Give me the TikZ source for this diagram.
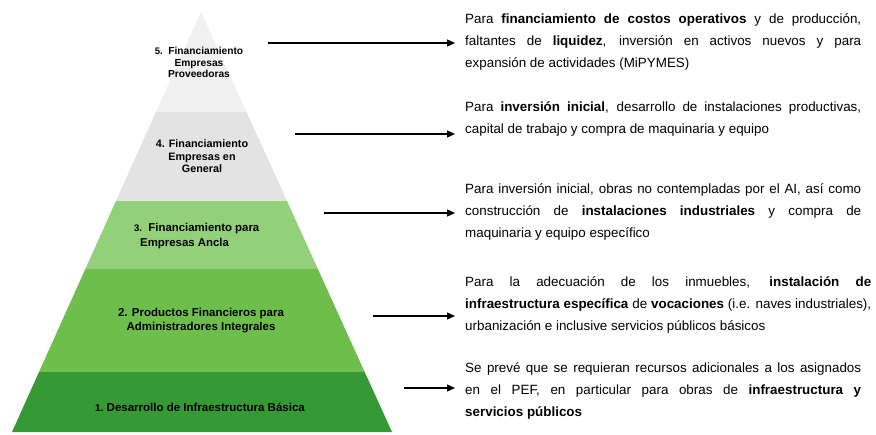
\documentclass[tikz,border=0pt]{standalone}
\usepackage{fontspec}
\setmainfont{Liberation Sans}
\usetikzlibrary{arrows.meta}
\definecolor{lay5}{RGB}{240,240,240}
\definecolor{lay4}{RGB}{227,227,227}
\definecolor{lay3}{RGB}{146,208,122}
\definecolor{lay2}{RGB}{110,190,75}
\definecolor{lay1}{RGB}{53,153,52}
\hyphenpenalty=10000
\tolerance=10000
\tikzset{
  desc/.style={anchor=north west, inner xsep=10pt, inner ysep=0pt, text width=396pt, align=justify,
    font=\fontsize{13.4}{21.8}\selectfont},
  lbl/.style={inner sep=0pt, align=center, font=\bfseries},
  arr/.style={line width=1.3pt, -{Triangle[length=8pt,width=7pt]}},
}
\newcommand{\firststrut}{\rule{0pt}{12.5pt}}
\begin{document}
\begin{tikzpicture}[x=1pt,y=-1pt]
\useasboundingbox[fill=white] (0,0) rectangle (876,434);
% pyramid layers
\fill[lay5] (201,12) -- (246.5,112) -- (156,112) -- cycle;
\fill[lay4] (156,112) -- (246.5,112) -- (287,201) -- (115.95,201) -- cycle;
\fill[lay3] (115.95,201) -- (287,201) -- (317.9,269) -- (85.35,269) -- cycle;
\fill[lay2] (85.35,269) -- (317.9,269) -- (364.7,372) -- (39,372) -- cycle;
\fill[lay1] (39,372) -- (364.7,372) -- (392,432) -- (12,432) -- cycle;
% pyramid labels
\node[lbl, font=\bfseries\fontsize{10.2}{11.6}\selectfont] (l5) at (199,62.5)
  {{\fontsize{9.5}{11}\selectfont 5.}\ \ Financiamiento\\Empresas\\Proveedoras};
\node[lbl, font=\bfseries\fontsize{10.8}{12.6}\selectfont] (l4) at (202,156.5)
  {4. Financiamiento\\Empresas en\\General};
\node[lbl, align=left, anchor=west, font=\bfseries\fontsize{11.4}{14.2}\selectfont] (l3) at (134,236)
  {{\fontsize{9.5}{11}\selectfont 3.}\ \ Financiamiento para\\\hspace*{6pt}Empresas Ancla};
\node[lbl, font=\bfseries\fontsize{11.5}{14}\selectfont] (l2) at (201,321)
  {2. Productos Financieros para\\Administradores Integrales};
\node[lbl, font=\bfseries\fontsize{11.5}{14}\selectfont] (l1) at (200,407)
  {{\fontsize{10}{11}\selectfont 1.}\ Desarrollo de Infraestructura B\'asica};
% descriptions
\node[desc] (t1) at (455,11)
  {\firststrut Para \textbf{financiamiento de costos operativos} y de producción,\linebreak
   faltantes de \textbf{liquidez}, inversión en activos nuevos y para\linebreak
   expansión de actividades (MiPYMES)};
\node[desc] (t2) at (455,99)
  {\firststrut Para \textbf{inversión inicial}, desarrollo de instalaciones productivas,\linebreak
   capital de trabajo y compra de maquinaria y equipo};
\node[desc] (t3) at (455,181)
  {\firststrut Para inversión inicial, obras no contempladas por el AI, así como\linebreak
   construcción de \textbf{instalaciones industriales} y compra de\linebreak
   maquinaria y equipo específico};
\node[desc, text width=406pt] (t4) at (455,274)
  {\firststrut Para la adecuación de los inmuebles, \textbf{instalación de}\linebreak
   \textbf{infraestructura específica} de \textbf{vocaciones} (i.e. naves industriales),\linebreak
   urbanización e inclusive servicios públicos básicos};
\node[desc] (t5) at (455,360)
  {\firststrut Se prevé que se requieran recursos adicionales a los asignados\linebreak
   en el PEF, en particular para obras de \textbf{infraestructura y}\linebreak
   \textbf{servicios públicos}};
% arrows
\coordinate (s1) at (268,43);
\coordinate (s2) at (295,134);
\coordinate (s3) at (324,213);
\coordinate (s4) at (373,316);
\coordinate (s5) at (404,388);
\draw[arr] (s1) -- (s1 -| t1.west);
\draw[arr] (s2) -- (s2 -| t2.west);
\draw[arr] (s3) -- (s3 -| t3.west);
\draw[arr] (s4) -- (s4 -| t4.west);
\draw[arr] (s5) -- (s5 -| t5.west);
\end{tikzpicture}
\end{document}
